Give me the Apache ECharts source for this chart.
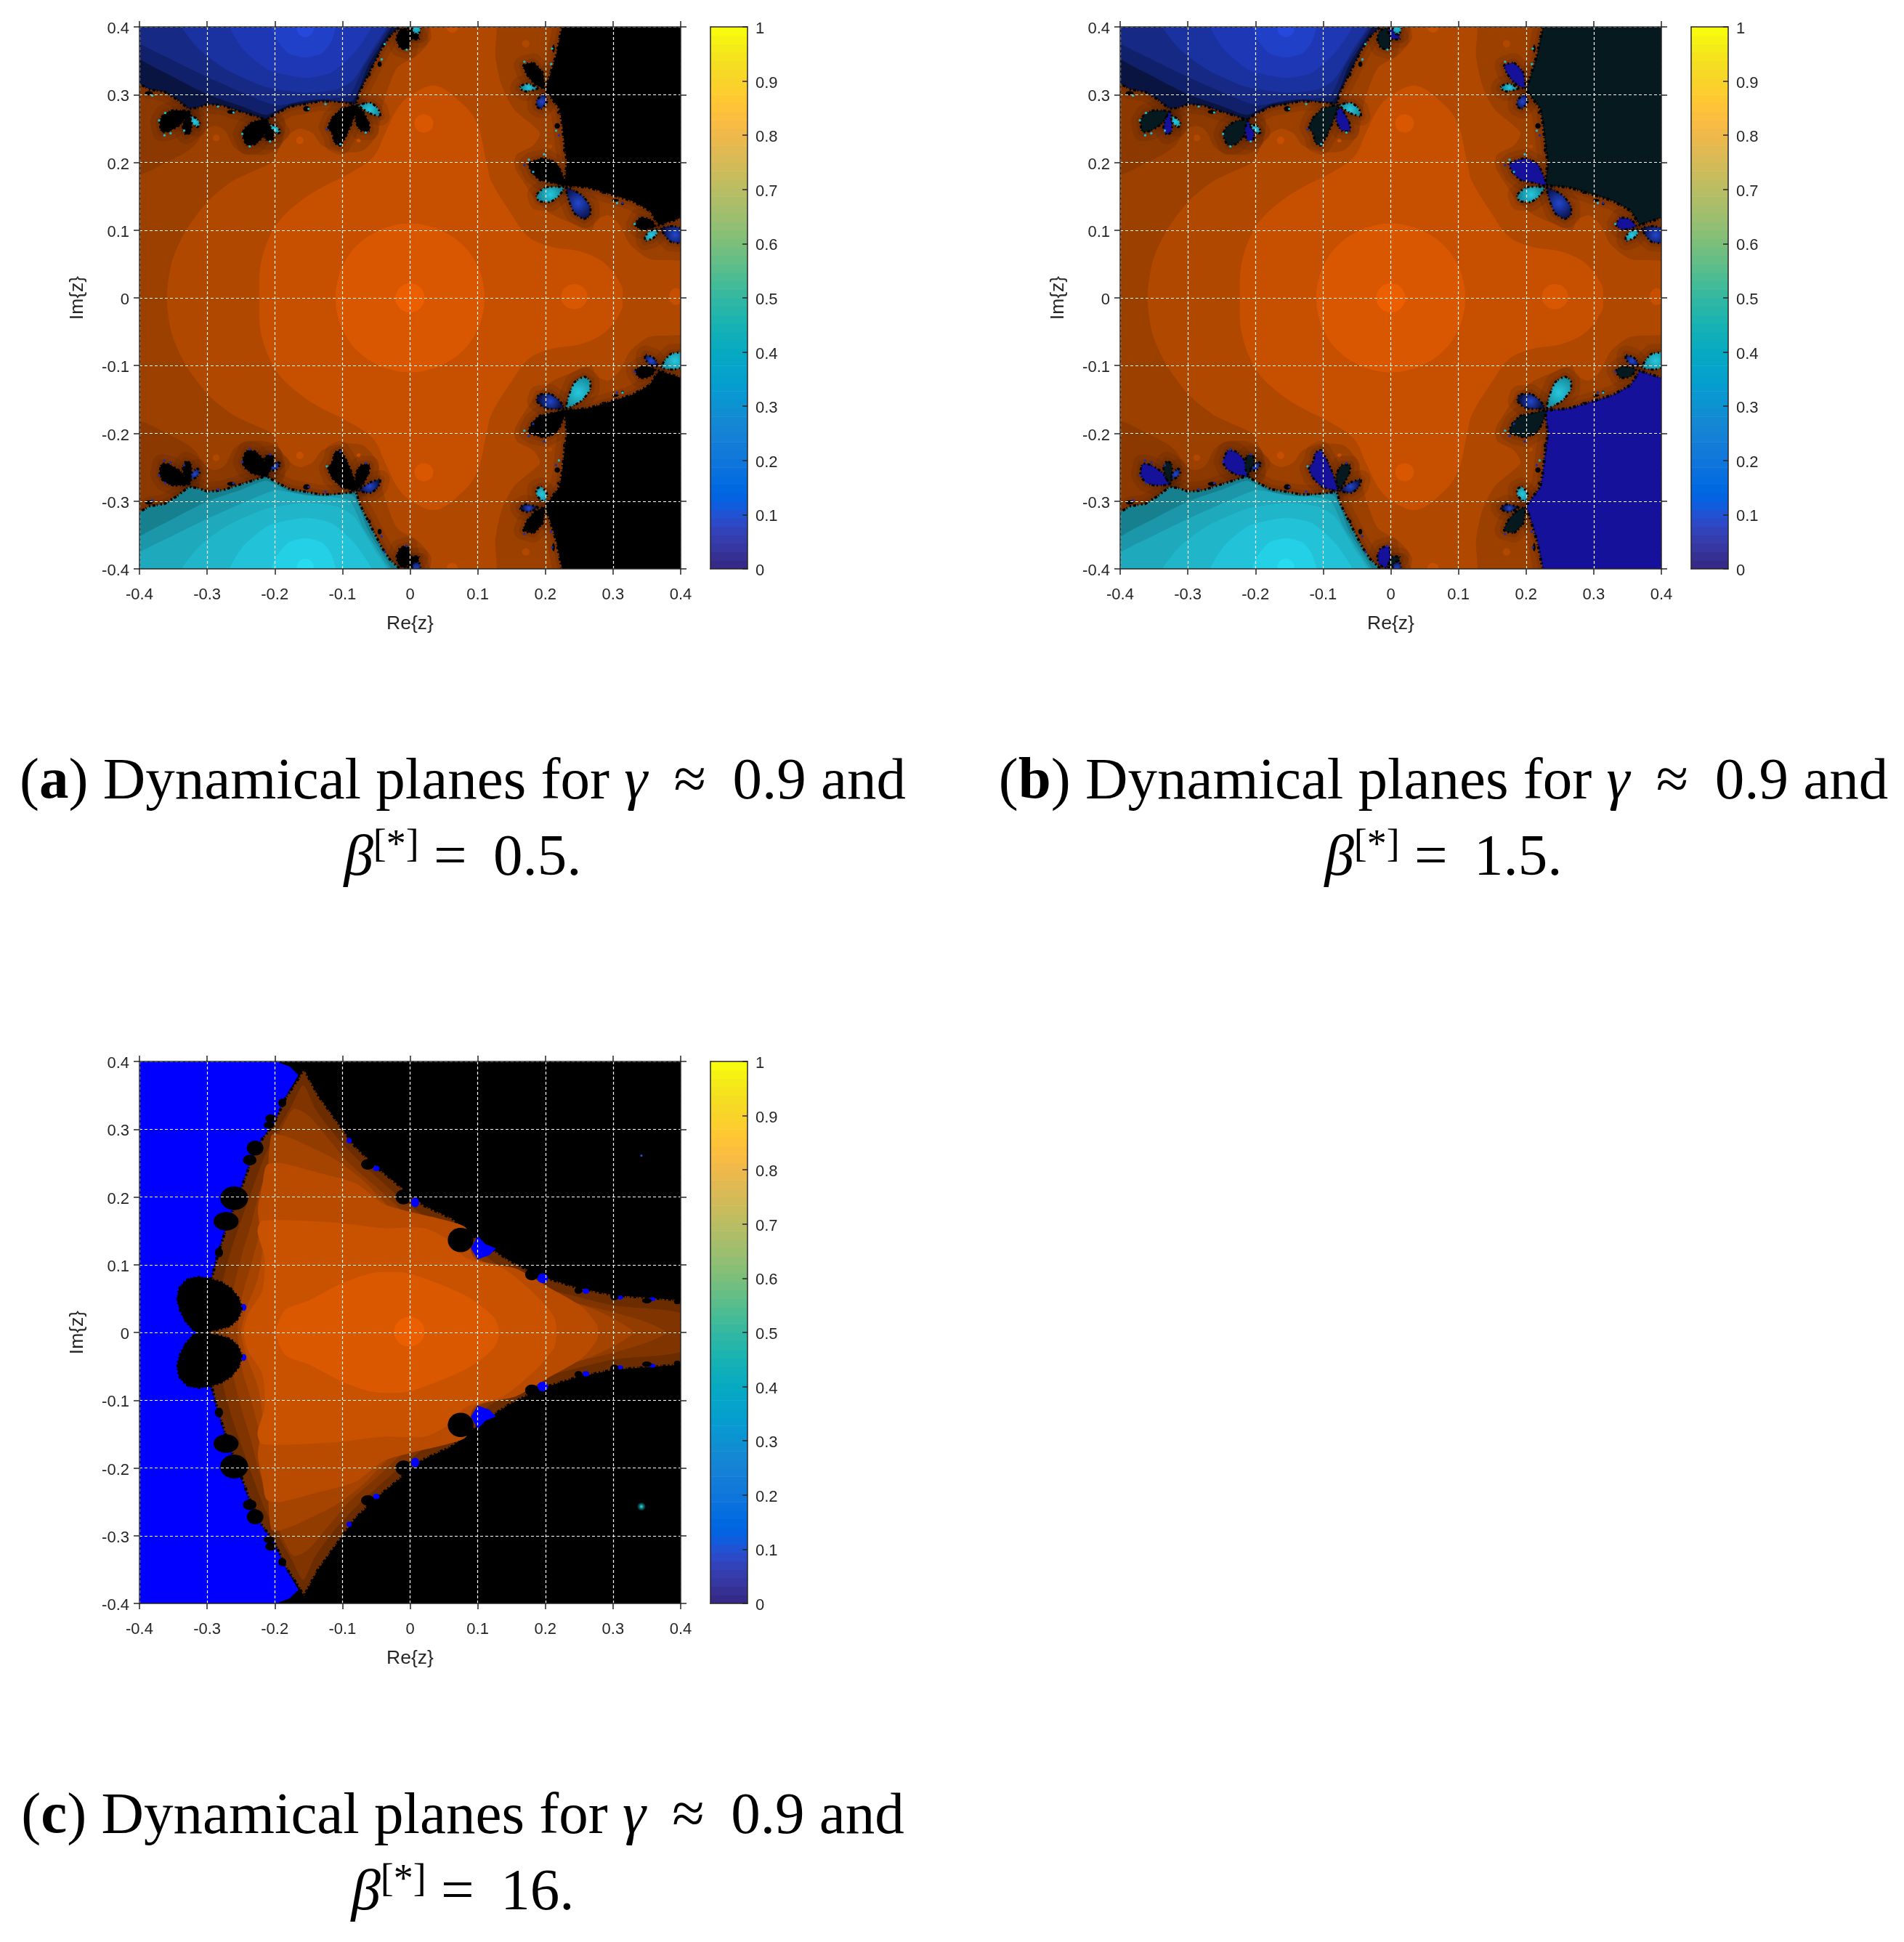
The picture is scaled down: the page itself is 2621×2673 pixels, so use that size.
<!DOCTYPE html>
<html>
<head>
<meta charset="utf-8">
<title>Dynamical planes</title>
<script src="https://cdn.jsdelivr.net/npm/echarts@6/dist/echarts.min.js"></script>
<style>
html, body { margin: 0; padding: 0; background: #fff; }
#chart { width: 2621px; height: 2673px; }
</style>
</head>
<body>
<div id="chart"></div>
<script>
// axis ticks
var planeTicks = [-0.4, -0.3, -0.2, -0.1, 0, 0.1, 0.2, 0.3, 0.4];
var barTicks = [0, 0.1, 0.2, 0.3, 0.4, 0.5, 0.6, 0.7, 0.8, 0.9, 1];

// colour bar, 64 levels
var parula = [
[.2081,.1663,.5292],[.2116,.1898,.5777],[.2123,.2138,.6270],[.2081,.2386,.6771],[.1959,.2645,.7279],[.1707,.2919,.7792],
[.1253,.3242,.8303],[.0591,.3598,.8683],[.0117,.3875,.8820],[.0060,.4086,.8828],[.0165,.4266,.8786],[.0329,.4430,.8720],
[.0498,.4586,.8641],[.0629,.4737,.8554],[.0723,.4887,.8467],[.0779,.5040,.8384],[.0793,.5200,.8312],[.0749,.5375,.8263],
[.0641,.5570,.8240],[.0488,.5772,.8228],[.0343,.5966,.8199],[.0265,.6137,.8135],[.0239,.6287,.8038],[.0231,.6418,.7913],
[.0228,.6535,.7768],[.0267,.6642,.7607],[.0384,.6743,.7436],[.0590,.6838,.7254],[.0843,.6928,.7062],[.1133,.7015,.6859],
[.1453,.7098,.6646],[.1801,.7177,.6424],[.2178,.7250,.6193],[.2586,.7317,.5954],[.3022,.7376,.5712],[.3482,.7424,.5473],
[.3953,.7459,.5244],[.4420,.7481,.5033],[.4871,.7491,.4840],[.5300,.7491,.4661],[.5709,.7485,.4494],[.6099,.7473,.4337],
[.6473,.7456,.4188],[.6834,.7435,.4044],[.7184,.7411,.3905],[.7525,.7384,.3768],[.7858,.7356,.3633],[.8185,.7327,.3498],
[.8507,.7299,.3360],[.8824,.7274,.3217],[.9139,.7258,.3063],[.9450,.7261,.2886],[.9739,.7314,.2666],[.9938,.7455,.2403],
[.9990,.7653,.2164],[.9955,.7861,.1967],[.9880,.8066,.1794],[.9789,.8271,.1633],[.9697,.8481,.1475],[.9626,.8705,.1309],
[.9589,.8949,.1132],[.9598,.9218,.0948],[.9661,.9514,.0755],[.9763,.9831,.0538]
];

// panels a and b: outlines of the upper half plane in (Re, Im), the lower half is the conjugate
var stripUpper = [[-.41,.184],[-.352,.204],[-.32,.2236],[-.302,.2486],[-.288,.254],[-.2735,.247],[-.261,.2236],[-.245,.213],[-.2233,.211],[-.205,.2146],[-.189,.229],[-.19,.27],[-.41,.33]];
var level2Upper = [[-.3595,0],[-.352,.054],[-.331,.10],[-.2985,.143],[-.263,.172],[-.234,.186],[-.205,.2],[-.191,.225],[-.177,.243],[-.162,.25],[-.144,.243],[-.13,.225],[-.10,.215],[-.069,.218],[-.048,.243],[-.04,.286],[-.019,.34],[.01,.3575],[.031,.3825],[.031,.41],[.124,.41],[.126,.3575],[.135,.3146],[.153,.279],[.182,.254],[.192,.243],[.182,.225],[.157,.211],[.155,.193],[.167,.172],[.182,.15],[.207,.125],[.246,.1075],[.268,.1],[.275,.115],[.293,.122],[.31,.1075],[.325,.079],[.354,.0575],[.41,.05]];
var level3Upper = [[-.223,0],[-.22,.054],[-.198,.1075],[-.162,.143],[-.127,.165],[-.098,.179],[-.055,.2075],[-.037,.243],[-.019,.279],[0,.2986],[.038,.313],[.078,.286],[.099,.2575],[.1136,.197],[.12,.172],[.149,.125],[.175,.09],[.21,.075],[.253,.068],[.289,.05],[.3125,.018],[.314,0]];
var level4Upper = [[-.11,0],[-.106,.03],[-.095,.056],[-.078,.078],[-.055,.095],[-.028,.106],[0,.11],[.028,.106],[.055,.095],[.078,.078],[.095,.056],[.106,.03],[.11,0]];
// [re, im, rx, ry, level]
var orangeSpots = [[0,0,.0215,.0215,5],[.2427,.002,.0195,.0185,4],[.0204,.2575,.014,.0135,4],[.393,.002,.01,.0125,3],[-.163,.2325,.0055,.0055,3],[-.2867,.236,.005,.005,2],[.171,.375,.0055,.0055,2],[.17,.2386,.0065,.0065,2],[.0624,.4,.0085,.0085,3],[.28,.109,.003,.003,2],[-.076,.2325,.003,.003,3],[.207,.2236,.003,.003,2]];
var orangeColors = ['#8c3900', '#9c4000', '#b04800', '#c65000', '#d95700', '#ec5f00'];

var blueBasinEdge = [[-.41,.41],[-.41,.316],[-.4,.316],[-.385,.3075],[-.363,.304],[-.345,.293],[-.327,.279],[-.313,.281],[-.299,.286],[-.277,.284],[-.256,.277],[-.234,.27],[-.2125,.263],[-.198,.272],[-.177,.2825],[-.155,.286],[-.134,.29],[-.109,.29],[-.08,.286],[-.0745,.304],[-.0656,.322],[-.055,.343],[-.042,.368],[-.03,.386],[-.015,.4],[-.015,.41]];
var darkBasinEdge = [[.2247,.41],[.2247,.4],[.221,.3825],[.2158,.3575],[.207,.329],[.2,.3075],[.2104,.293],[.221,.279],[.2247,.2575],[.228,.229],[.232,.2],[.228,.166],[.264,.163],[.3,.152],[.3287,.143],[.354,.129],[.368,.1075],[.4,.118],[.41,.118],[.41,.41]];
var basinBand5 = [[-.41,.361],[-.349,.3254],[-.2986,.30],[-.248,.2825],[-.2125,.27],[-.177,.286],[-.134,.293],[-.085,.2914],[-.062,.343],[-.0315,.393],[-.024,.41],[-.41,.41]];
var basinBand4 = [[-.41,.3825],[-.349,.35],[-.291,.322],[-.234,.297],[-.198,.284],[-.155,.2914],[-.0907,.2986],[-.069,.34],[-.04,.386],[-.028,.41],[-.41,.41]];
var basinBand3 = [[-.34,.41],[-.313,.368],[-.27,.336],[-.2125,.311],[-.155,.303],[-.1086,.3075],[-.0835,.322],[-.055,.368],[-.033,.41]];
var basinBand2 = [[-.268,.41],[-.248,.368],[-.209,.336],[-.155,.3246],[-.116,.3325],[-.08,.3646],[-.055,.41]];
var basinBand1 = [[-.2054,.41],[-.198,.3825],[-.18,.361],[-.155,.3546],[-.13,.361],[-.116,.379],[-.11,.41]];
var blueShades = ['#0a1440', '#11206a', '#162a85', '#1a31a0', '#1d37b5', '#2040c8', '#2648dd'];
var cyanShades = ['#17808f', '#1c97aa', '#1ea9bc', '#20b5c9', '#22c2d8', '#24d0e6', '#27dcef'];
var basinCore = [-.155, .397, .0125, .012];

// petals of the flowers on the basin edge: kind A, B take the dark basin colours, C cyan, D blue
var petals = [
 {kind:'A', pts:[[-.327,.275],[-.349,.277],[-.363,.272],[-.37,.261],[-.367,.245],[-.354,.247],[-.338,.2575],[-.331,.268]]},
 {kind:'B', pts:[[-.327,.275],[-.334,.261],[-.336,.25],[-.331,.241],[-.324,.245],[-.323,.2575],[-.324,.27]]},
 {kind:'C', pts:[[-.325,.268],[-.316,.265],[-.311,.2575],[-.314,.252],[-.322,.2575]]},
 {kind:'A', pts:[[-.211,.263],[-.23,.2604],[-.243,.252],[-.248,.2414],[-.241,.2254],[-.2285,.227],[-.216,.24]]},
 {kind:'B', pts:[[-.211,.261],[-.2155,.249],[-.2125,.2325],[-.2036,.2325],[-.2018,.245]]},
 {kind:'C', pts:[[-.209,.255],[-.198,.254],[-.1918,.245],[-.1965,.2425],[-.2036,.2486]]},
 {kind:'A', pts:[[-.078,.284],[-.1014,.279],[-.1158,.2646],[-.121,.252],[-.114,.24],[-.112,.229],[-.103,.225],[-.094,.24],[-.085,.261]]},
 {kind:'B', pts:[[-.079,.279],[-.0806,.261],[-.0728,.2468],[-.06,.2468],[-.062,.261],[-.0728,.279]]},
 {kind:'C', pts:[[-.076,.284],[-.0584,.288],[-.047,.279],[-.044,.268],[-.0584,.272]]},
 {kind:'A', pts:[[-.0065,.3986],[-.017,.393],[-.02,.3825],[-.0154,.37],[-.003,.3664],[-.0004,.3825]]},
 {kind:'B', pts:[[-.003,.3986],[.0007,.3825],[.0133,.3825],[.0097,.3914]]},
 {kind:'C', pts:[[.0007,.41],[.017,.41],[.013,.39],[.006,.39]]},
 {kind:'B', pts:[[.198,.309],[.196,.3325],[.182,.347],[.1675,.3432],[.171,.3325],[.182,.318]]},
 {kind:'C', pts:[[.189,.3093],[.1746,.3164],[.164,.3129],[.162,.3093],[.171,.3046]]},
 {kind:'D', pts:[[.196,.3],[.187,.2914],[.187,.2825],[.194,.279],[.2025,.2896],[.2,.3]]},
 {kind:'B', pts:[[.23,.1664],[.2176,.197],[.1996,.206],[.182,.202],[.1746,.197],[.182,.1825],[.1925,.1736],[.21,.17]]},
 {kind:'C', pts:[[.2276,.163],[.1996,.163],[.187,.152],[.19,.1432],[.2068,.1414],[.2194,.15]]},
 {kind:'D', pts:[[.231,.163],[.2337,.1468],[.2427,.125],[.257,.1164],[.266,.122],[.266,.136],[.2534,.152]]},
 {kind:'B', pts:[[.3627,.1057],[.354,.1164],[.339,.118],[.333,.1075],[.341,.101],[.354,.102]]},
 {kind:'C', pts:[[.3653,.101],[.354,.0986],[.3473,.0896],[.348,.0843],[.359,.0879],[.3653,.095]]},
 {kind:'D', pts:[[.3717,.103],[.377,.0914],[.386,.0825],[.41,.0807],[.41,.0986],[.39,.1057]]}
];
// small satellites [re, im, rx, ry]
var bits = [[-.386,.302,.006,.003],[-.2645,.2746,.006,.003],[-.153,.279,.005,.004],[-.045,.345,.003,.004],[-.06,.33,.002,.003],[.212,.368,.002,.006],[.2176,.254,.004,.004],[.228,.218,.002,.003],[.219,.2736,.002,.002],[.3036,.144,.005,.002],[.314,.139,.002,.002],[.285,.155,.002,.0015],[.265,.162,.002,.0015]];
// tiny coloured specks [re, im, kind]
var specks = [[-.363,.24,'C'],[-.354,.243,'C'],[-.334,.247,'C'],[-.371,.262,'C'],[-.362,.273,'C'],[-.237,.2236,'C'],[-.248,.242,'C'],[-.207,.231,'C'],[-.103,.227,'C'],[-.123,.2486,'D'],[-.0656,.244,'C'],[-.042,.352,'C'],[-.0376,.3746,'C'],[-.005,.3664,'C'],[-.381,.2986,'C'],[-.261,.2736,'C'],[-.15,.279,'C'],[-.125,.286,'C'],[-.284,.2825,'C'],[.169,.3486,'C'],[.21,.368,'C'],[.2086,.345,'C'],[.2158,.2468,'C'],[.22,.24,'D'],[.198,.212,'C'],[.1756,.204,'C'],[.169,.196,'D'],[.182,.186,'C'],[.306,.14,'C'],[.314,.14,'D'],[.332,.109,'C']];

// panel c, upper half
var cBlueEdge = [[-.41,.41],[-.198,.41],[-.198,.4],[-.178,.3925],[-.165,.38],[-.184,.346],[-.2015,.3076],[-.2186,.2856],[-.239,.242],[-.253,.2034],[-.27,.1595],[-.284,.1157],[-.294,.0773],[-.3146,0]];
var cFlameEdge = [[-.3,0],[-.294,.0773],[-.284,.1157],[-.27,.1595],[-.253,.2034],[-.239,.242],[-.2186,.2856],[-.2015,.3076],[-.184,.346],[-.165,.375],[-.157,.389],[-.1365,.351],[-.109,.313],[-.0816,.275],[-.047,.242],[-.0096,.2116],[.021,.187],[.0624,.168],[.1,.1376],[.1446,.1075],[.1926,.083],[.2474,.066],[.302,.055],[.41,.047]];
var cBand1 = [[-.285,0],[-.278,.07],[-.265,.12],[-.25,.165],[-.232,.215],[-.215,.26],[-.195,.3],[-.175,.335],[-.158,.365],[-.14,.33],[-.11,.29],[-.08,.258],[-.05,.23],[-.01,.195],[.03,.165],[.07,.14],[.1,.12],[.145,.09],[.19,.068],[.25,.052],[.3,.04],[.41,.025]];
var cBand2 = [[-.27,0],[-.262,.06],[-.25,.11],[-.235,.16],[-.222,.21],[-.205,.26],[-.19,.3],[-.172,.33],[-.15,.32],[-.12,.285],[-.09,.25],[-.05,.215],[-.012,.18],[.03,.15],[.08,.125],[.13,.09],[.18,.065],[.24,.045],[.3,.03],[.35,.015],[.378,0]];
var cBand3 = [[-.255,0],[-.248,.055],[-.235,.1],[-.222,.15],[-.212,.2],[-.205,.291],[-.185,.29],[-.15,.275],[-.11,.255],[-.07,.225],[-.03,.185],[.02,.155],[.07,.13],[.11,.1],[.16,.075],[.21,.055],[.27,.035],[.31,.015],[.33,0]];
var cBand4 = [[-.25,0],[-.24,.04],[-.225,.08],[-.218,.13],[-.225,.18],[-.218,.22],[-.212,.247],[-.19,.25],[-.136,.236],[-.08,.22],[-.04,.19],[0,.178],[.055,.165],[.083,.154],[.095,.11],[.157,.094],[.206,.066],[.254,.038],[.276,.012],[.278,0]];
var cBand5 = [[-.246,0],[-.239,.028],[-.2187,.061],[-.215,.11],[-.2255,.1486],[-.2187,.165],[-.109,.162],[-.04,.154],[.021,.154],[.055,.1376],[.083,.11],[.138,.094],[.186,.055],[.213,.0225],[.2166,0]];
var cBand6 = [[-.198,0],[-.1845,.0334],[-.15,.047],[-.102,.072],[-.054,.088],[-.006,.088],[.042,.072],[.09,.05],[.124,.0225],[.132,0]];
var cBandColors = ['#6b2c00', '#803400', '#933c00', '#a54300', '#b84b00', '#c95200', '#da5800'];
var cCentre = [-.001, .001, .0226, .022];
var cLobe = [[-.3146,.0005],[-.332,.017],[-.3434,.044],[-.3407,.066],[-.325,.08],[-.2975,.08],[-.27,.069],[-.253,.05],[-.2495,.0307],[-.263,.0115],[-.29,.003]];
var cBlueSpike = [[.1,.142],[.09,.124],[.1,.108],[.117,.114],[.127,.124],[.112,.13]];
// black discs along the edge [re, im, rx, ry]
var cDiscs = [[-.26,.198,.0206,.0175],[-.272,.164,.0185,.0137],[-.229,.272,.0123,.011],[-.237,.2544,.01,.0077],[-.206,.316,.008,.006],[-.2085,.306,.008,.005],[-.2825,.118,.006,.007],[-.189,.339,.006,.006],[-.0096,.2,.012,.011],[-.0624,.248,.01,.0077],[.0747,.1365,.019,.018],[.18,.0855,.01,.0085],[.249,.062,.006,.005],[.302,.0526,.006,.005],[.35,.047,.007,.004],[.395,.0455,.005,.004]];
var cBlueBits = [[.196,.08,.008,.007],[.0075,.192,.006,.007],[-.05,.242,.005,.004],[-.09,.283,.004,.004],[.26,.061,.005,.004],[.31,.0515,.005,.003],[.358,.049,.005,.003],[-.246,.037,.004,.005]];
var cGlowUp = [.342, .261, .0018, .0018];
var cGlowDown = [.342, -.257, .007, .0065];

// caption strings
var captions = [
  {cx: 637, top: [1037, 1138], line1: '({b|a}) Dynamical planes for {i|γ} \u2009≈\u2009 0.9 and', line2: '{i|β}{s|[*]} =\u2009 0.5.'},
  {cx: 1987, top: [1037, 1138], line1: '({b|b}) Dynamical planes for {i|γ} \u2009≈\u2009 0.9 and', line2: '{i|β}{s|[*]} =\u2009 1.5.'},
  {cx: 637, top: [2461, 2562], line1: '({b|c}) Dynamical planes for {i|γ} \u2009≈\u2009 0.9 and', line2: '{i|β}{s|[*]} =\u2009 16.'}
];

var FRAME = '#262626';
var SANS = '"Liberation Sans"';
var BLUE_C = '#0000ff';
var CAP_SIZE = 81;

function conj(pts) { return pts.map(function (p) { return [p[0], -p[1]]; }); }
function closeHalf(pts) {
  var m = conj(pts).reverse();
  if (pts[pts.length - 1][1] === 0) m.shift();
  if (pts[0][1] === 0) m.pop();
  return pts.concat(m);
}
function swapKind(k) { return {A: 'B', B: 'A', C: 'D', D: 'C'}[k]; }

function radial(inner, outer) {
  return new echarts.graphic.RadialGradient(0.5, 0.5, 0.62, [{offset: 0, color: inner}, {offset: 1, color: outer}]);
}

// paint list for panels a and b
function planeRegions(darkA, darkB) {
  var fills = {A: darkA, B: darkB, C: radial('#27c8de', '#178a9a'), D: radial('#2347cc', '#0b1248')};
  var speckFill = {A: darkA, B: darkB, C: '#1fb9cd', D: '#1c2fa8'};
  var frill = [2, 3, 4, 2, 1, 4];
  var out = [];
  var rims = [blueBasinEdge, conj(blueBasinEdge), darkBasinEdge, conj(darkBasinEdge)];
  petals.forEach(function (p) { rims.push(p.pts); rims.push(conj(p.pts)); });

  out.push({pts: stripUpper, fill: orangeColors[0], smooth: 0.3});
  out.push({pts: conj(stripUpper), fill: orangeColors[0], smooth: 0.3});
  out.push({pts: closeHalf(level2Upper), fill: orangeColors[2], smooth: 0.25});
  out.push({pts: closeHalf(level3Upper), fill: orangeColors[3], smooth: 0.35});
  out.push({pts: closeHalf(level4Upper), fill: orangeColors[4], smooth: 0.4});
  orangeSpots.forEach(function (s) {
    out.push({ell: s, fill: orangeColors[s[4]]});
    if (s[1] > 0.01) out.push({ell: [s[0], -s[1], s[2], s[3]], fill: orangeColors[s[4]]});
  });
  // dark halo round everything that is not attracted to the centre
  [26, 12].forEach(function (w) {
    rims.forEach(function (r) { out.push({pts: r, fill: 'none', stroke: 'rgba(70,26,0,0.15)', lineWidth: w}); });
  });

  [[blueShades, false], [cyanShades, true]].forEach(function (pair) {
    var shades = pair[0], flip = pair[1];
    var t = function (pts) { return flip ? conj(pts) : pts; };
    out.push({pts: t(blueBasinEdge), fill: shades[0], stroke: '#000', lineWidth: 3.5, dash: frill});
    [basinBand5, basinBand4, basinBand3, basinBand2, basinBand1].forEach(function (b, i) {
      out.push({pts: t(b), fill: shades[i + 1], smooth: 0.2});
    });
    out.push({ell: [basinCore[0], flip ? -basinCore[1] : basinCore[1], basinCore[2], basinCore[3]], fill: shades[6]});
  });
  out.push({pts: darkBasinEdge, fill: darkA, stroke: '#000', lineWidth: 4, dash: frill});
  out.push({pts: conj(darkBasinEdge), fill: darkB, stroke: '#000', lineWidth: 4, dash: frill});

  petals.forEach(function (p) {
    out.push({pts: p.pts, fill: fills[p.kind], stroke: '#000', lineWidth: 3, dash: frill, smooth: 0.2});
    out.push({pts: conj(p.pts), fill: fills[swapKind(p.kind)], stroke: '#000', lineWidth: 3, dash: frill, smooth: 0.2});
  });
  bits.forEach(function (b) {
    out.push({ell: b, fill: '#000'});
    out.push({ell: [b[0], -b[1], b[2], b[3]], fill: '#000'});
  });
  specks.forEach(function (s) {
    out.push({ell: [s[0], s[1], .0018, .0018], fill: speckFill[s[2]]});
    out.push({ell: [s[0], -s[1], .0018, .0018], fill: speckFill[swapKind(s[2])]});
  });
  return out;
}

// paint list for panel c
function triangleRegions() {
  var out = [];
  var frill = [2, 3, 4, 2, 1, 4];
  out.push({pts: closeHalf(cBlueEdge), fill: BLUE_C});
  out.push({pts: closeHalf(cFlameEdge), fill: cBandColors[0], stroke: '#000', lineWidth: 4, dash: frill});
  [cBand1, cBand2, cBand3, cBand4, cBand5, cBand6].forEach(function (b, i) {
    out.push({pts: closeHalf(b), fill: cBandColors[i + 1], smooth: 0.25});
  });
  out.push({ell: cCentre, fill: '#ec5f00'});
  [cBlueSpike, conj(cBlueSpike)].forEach(function (p) {
    out.push({pts: p, fill: BLUE_C});
  });
  cBlueBits.forEach(function (b) {
    out.push({ell: b, fill: BLUE_C});
    out.push({ell: [b[0], -b[1], b[2], b[3]], fill: BLUE_C});
  });
  [cLobe, conj(cLobe)].forEach(function (p) {
    out.push({pts: p, fill: '#000', stroke: '#000', lineWidth: 3, dash: frill, smooth: 0.3});
  });
  cDiscs.forEach(function (b) {
    out.push({ell: b, fill: '#000'});
    out.push({ell: [b[0], -b[1], b[2], b[3]], fill: '#000'});
  });
  out.push({ell: cGlowUp, fill: '#1a50c0'});
  out.push({ell: cGlowDown, fill: new echarts.graphic.RadialGradient(0.5, 0.5, 0.5, [{offset: 0, color: '#3fe6e0'}, {offset: 0.35, color: '#128a90'}, {offset: 1, color: '#000'}])});
  return out;
}

function regionSeries(idx, regions) {
  return {
    type: 'custom',
    coordinateSystem: 'cartesian2d',
    xAxisIndex: idx.x,
    yAxisIndex: idx.y,
    clip: true,
    silent: true,
    animation: false,
    encode: {x: 0, y: 1},
    data: regions.map(function (r, i) {
      var p = r.ell || r.pts[0];
      return [p[0], p[1], i];
    }),
    renderItem: function (params, api) {
      var r = regions[api.value(2)];
      if (r.ell) {
        var c = api.coord([r.ell[0], r.ell[1]]);
        var s = api.size([r.ell[2], r.ell[3]]);
        return {type: 'ellipse', shape: {cx: c[0], cy: c[1], rx: s[0], ry: s[1]}, style: {fill: r.fill}};
      }
      return {
        type: 'polygon',
        shape: {points: r.pts.map(function (p) { return api.coord(p); }), smooth: r.smooth || 0},
        style: {fill: r.fill, stroke: r.stroke || null, lineWidth: r.lineWidth || 0, lineDash: r.dash || null, lineJoin: 'round'}
      };
    }
  };
}

function barSeries(idx) {
  return {
    type: 'custom',
    coordinateSystem: 'cartesian2d',
    xAxisIndex: idx.x,
    yAxisIndex: idx.y,
    clip: true,
    silent: true,
    animation: false,
    encode: {x: 0, y: 1},
    data: parula.map(function (c, i) { return [0, i / parula.length, i]; }),
    renderItem: function (params, api) {
      var i = api.value(2);
      var c = parula[i];
      var a = api.coord([0, (i + 1) / parula.length]);
      var b = api.coord([1, i / parula.length]);
      return {
        type: 'rect',
        shape: {x: a[0], y: a[1], width: b[0] - a[0], height: b[1] - a[1] + 0.6},
        style: {fill: 'rgb(' + Math.round(c[0] * 255) + ',' + Math.round(c[1] * 255) + ',' + Math.round(c[2] * 255) + ')'}
      };
    }
  };
}

var option = {
  animation: false,
  backgroundColor: '#fff',
  title: [],
  grid: [],
  xAxis: [],
  yAxis: [],
  series: []
};

var plainLine = {show: true, onZero: false, lineStyle: {color: FRAME, width: 1.5}};
var dashGrid = {show: true, lineStyle: {color: '#fff', width: 1.2, type: [4, 3]}};

function addPlane(left, top, regions) {
  var g = option.grid.length;
  option.grid.push({left: left, top: top, width: 745, height: 746, containLabel: false});
  var xb = option.xAxis.length, yl = option.yAxis.length;
  var tickFont = {color: FRAME, fontFamily: SANS, fontSize: 22};
  option.xAxis.push({
    gridIndex: g, type: 'value', position: 'bottom', min: planeTicks[0], max: planeTicks[8], interval: 0.1, z: 10,
    axisLine: plainLine, axisTick: {show: true, length: 8, lineStyle: {color: FRAME, width: 1.5}},
    axisLabel: Object.assign({show: true, margin: 25, hideOverlap: false, showMinLabel: true, showMaxLabel: true}, tickFont),
    splitLine: dashGrid,
    name: 'Re{z}', nameLocation: 'middle', nameGap: 62, nameTextStyle: {color: FRAME, fontFamily: SANS, fontSize: 26.5}
  });
  option.xAxis.push({
    gridIndex: g, type: 'value', position: 'top', min: planeTicks[0], max: planeTicks[8], interval: 0.1, z: 10,
    axisLine: plainLine, axisTick: {show: true, length: 8, lineStyle: {color: FRAME, width: 1.5}},
    axisLabel: {show: false}, splitLine: {show: false}
  });
  option.yAxis.push({
    gridIndex: g, type: 'value', position: 'left', min: planeTicks[0], max: planeTicks[8], interval: 0.1, z: 10,
    axisLine: plainLine, axisTick: {show: true, length: 8, lineStyle: {color: FRAME, width: 1.5}},
    axisLabel: Object.assign({show: true, margin: 14, hideOverlap: false, showMinLabel: true, showMaxLabel: true, verticalAlign: 'top', lineHeight: 6}, tickFont),
    splitLine: dashGrid,
    name: 'Im{z}', nameLocation: 'middle', nameGap: 72, nameTextStyle: {color: FRAME, fontFamily: SANS, fontSize: 26.5}
  });
  option.yAxis.push({
    gridIndex: g, type: 'value', position: 'right', min: planeTicks[0], max: planeTicks[8], interval: 0.1, z: 10,
    axisLine: plainLine, axisTick: {show: true, length: 8, lineStyle: {color: FRAME, width: 1.5}},
    axisLabel: {show: false}, splitLine: {show: false}
  });
  option.series.push(regionSeries({x: xb, y: yl}, regions));
}

function addBar(left, top) {
  var g = option.grid.length;
  option.grid.push({left: left, top: top, width: 51, height: 746});
  var xb = option.xAxis.length, yl = option.yAxis.length;
  ['bottom', 'top'].forEach(function (pos) {
    option.xAxis.push({
      gridIndex: g, type: 'value', position: pos, min: 0, max: 1, z: 10,
      axisLine: plainLine, axisTick: {show: false}, axisLabel: {show: false}, splitLine: {show: false}
    });
  });
  option.yAxis.push({
    gridIndex: g, type: 'value', position: 'right', min: barTicks[0], max: barTicks[10], interval: 0.1, z: 10,
    axisLine: plainLine, axisTick: {show: true, inside: true, length: 7, lineStyle: {color: FRAME, width: 1.5}},
    axisLabel: {show: true, margin: 11, color: FRAME, fontFamily: SANS, fontSize: 22, hideOverlap: false, showMinLabel: true, showMaxLabel: true, verticalAlign: 'top', lineHeight: 6},
    splitLine: {show: false}
  });
  option.yAxis.push({
    gridIndex: g, type: 'value', position: 'left', min: 0, max: 1, z: 10,
    axisLine: plainLine, axisTick: {show: false}, axisLabel: {show: false}, splitLine: {show: false}
  });
  option.series.push(barSeries({x: xb, y: yl}));
}

var richCaption = {
  b: {fontFamily: 'Liberation Serif', fontSize: CAP_SIZE, fontWeight: 'bold', color: '#000'},
  i: {fontFamily: 'Liberation Serif', fontSize: CAP_SIZE, fontStyle: 'italic', color: '#000'},
  s: {fontFamily: 'Liberation Serif', fontSize: 54, color: '#000', padding: [0, 0, 36, 0]}
};

captions.forEach(function (c) {
  [c.line1, c.line2].forEach(function (line, i) {
    option.title.push({
      text: line,
      left: c.cx,
      top: c.top[i],
      textAlign: 'center',
      padding: 0,
      textStyle: {fontFamily: 'Liberation Serif', fontSize: CAP_SIZE, fontWeight: 'normal', color: '#000', rich: richCaption}
    });
  });
});

addPlane(192, 37, planeRegions('#000', '#000'));
addBar(978, 37);
addPlane(1542, 37, planeRegions('#06191f', '#16119a'));
addBar(2328, 37);
addPlane(192, 1461, triangleRegions());
addBar(978, 1461);

// background of a panel: plain level 1 orange / black via the grid
option.grid[0].show = true; option.grid[0].backgroundColor = orangeColors[1]; option.grid[0].borderWidth = 0;
option.grid[2].show = true; option.grid[2].backgroundColor = orangeColors[1]; option.grid[2].borderWidth = 0;
option.grid[4].show = true; option.grid[4].backgroundColor = '#000'; option.grid[4].borderWidth = 0;

var myChart = echarts.init(document.getElementById('chart'), null, {renderer: 'canvas'});
myChart.setOption(option);
</script>
</body>
</html>
